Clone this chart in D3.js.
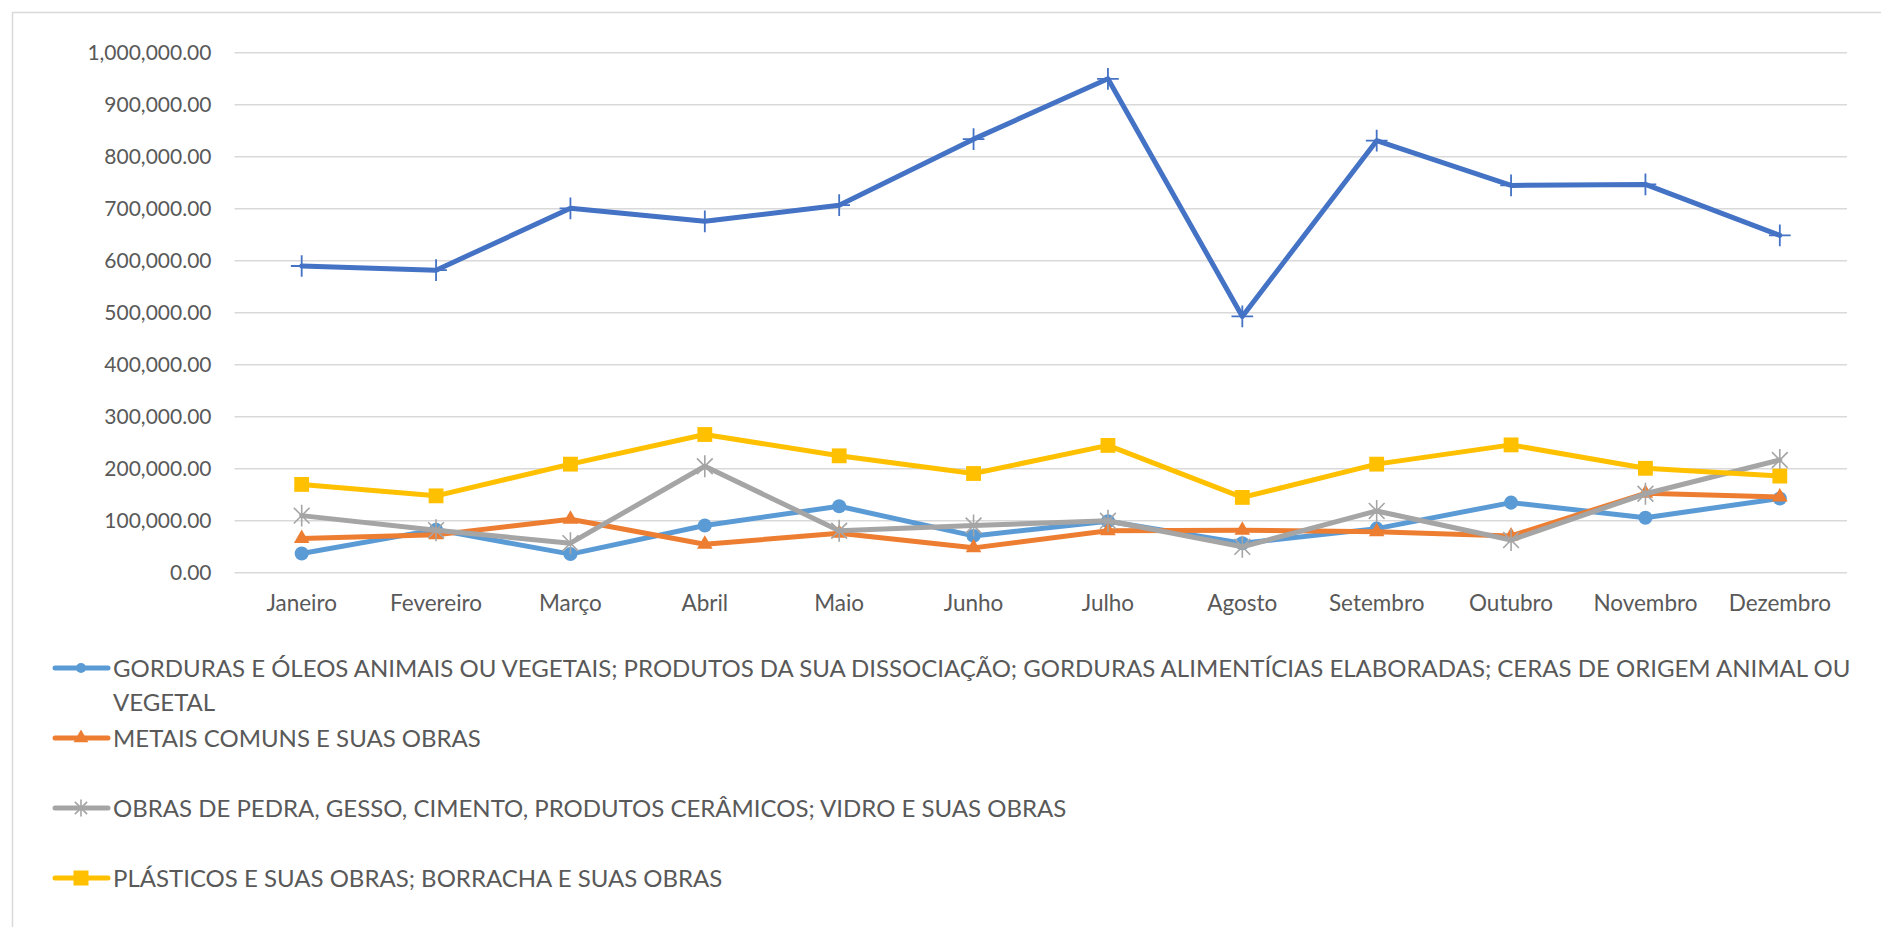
<!DOCTYPE html>
<html>
<head>
<meta charset="utf-8">
<script src="https://cdn.jsdelivr.net/npm/d3@7"></script>
<style>
  html, body { margin: 0; padding: 0; background: #ffffff; }
  svg { display: block; }
</style>
</head>
<body>
<svg id="chart" width="1881" height="927"></svg>
<script>
// ---------- data ----------
const months = ["Janeiro", "Fevereiro", "Março", "Abril", "Maio", "Junho", "Julho", "Agosto", "Setembro", "Outubro", "Novembro", "Dezembro"];
const yTicks = [0, 100000, 200000, 300000, 400000, 500000, 600000, 700000, 800000, 900000, 1000000];

const gorduras  = [36000, 82000, 35000, 90000, 127000, 70000, 98000, 56000, 84000, 134000, 105000, 142000];
const metais    = [65000, 72000, 102000, 54000, 75000, 47000, 80000, 81000, 78000, 70000, 152000, 145000];
const obras     = [109000, 81000, 56000, 204000, 80000, 90000, 99000, 49000, 118000, 62000, 151000, 216000];
const plasticos = [169000, 147000, 208000, 265000, 224000, 190000, 244000, 144000, 208000, 245000, 200000, 185000];
const outro     = [589000, 581000, 700000, 675000, 706000, 833000, 949000, 492000, 830000, 744000, 746000, 648000];

const legendLines = [
  ["GORDURAS E ÓLEOS ANIMAIS OU VEGETAIS; PRODUTOS DA SUA DISSOCIAÇÃO; GORDURAS ALIMENTÍCIAS ELABORADAS; CERAS DE ORIGEM ANIMAL OU", "VEGETAL"],
  ["METAIS COMUNS E SUAS OBRAS"],
  ["OBRAS DE PEDRA, GESSO, CIMENTO, PRODUTOS CERÂMICOS; VIDRO E SUAS OBRAS"],
  ["PLÁSTICOS E SUAS OBRAS; BORRACHA E SUAS OBRAS"]
];

// ---------- styles ----------
const FONT = "Lato, 'Open Sans', sans-serif";
const TEXT = "#595959";
const GRID = "#d9d9d9";

// marker shapes
const plusSym = { draw(ctx, size) { const r = Math.sqrt(size) / 2; ctx.moveTo(-r, 0); ctx.lineTo(r, 0); ctx.moveTo(0, -r); ctx.lineTo(0, r); } };
const starSym = { draw(ctx, size) { const r = Math.sqrt(size) / 2; const d = r * 0.72;
  ctx.moveTo(0, -r); ctx.lineTo(0, r);
  ctx.moveTo(-d, -d); ctx.lineTo(d, d);
  ctx.moveTo(-d, d); ctx.lineTo(d, -d); } };

const series = [
  { values: gorduras,  color: "#5B9BD5", sym: d3.symbolCircle,   size: 155, lsize: 80,  fill: true },
  { values: metais,    color: "#ED7D31", sym: d3.symbolTriangle, size: 105, lsize: 95,  fill: true },
  { values: obras,     color: "#A5A5A5", sym: starSym,           size: 480, lsize: 290, fill: false, sw: 1.6 },
  { values: plasticos, color: "#FFC000", sym: d3.symbolSquare,   size: 220, lsize: 225, fill: true },
  { values: outro,     color: "#4472C4", sym: plusSym,           size: 470, lsize: 300, fill: false, sw: 1.8 }
];

// ---------- layout ----------
const svg = d3.select("#chart");
svg.append("rect").attr("x", 12.5).attr("y", 12.5).attr("width", 1900).attr("height", 1000)
  .attr("fill", "#fff").attr("stroke", GRID).attr("stroke-width", 1.5);

const x = d3.scaleBand().domain(months).range([234.5, 1847]);
const y = d3.scaleLinear().domain([0, 1000000]).range([572.3, 52.3]);
const cx = m => x(m) + x.bandwidth() / 2;

// gridlines + y labels
const yAxis = d3.axisLeft(y).tickValues(yTicks).tickFormat(d3.format(",.2f"))
  .tickSize(-(1847 - 234.5)).tickPadding(23);
const gy = svg.append("g").attr("transform", "translate(234.5,0)").call(yAxis);
gy.select(".domain").remove();
gy.selectAll(".tick line").attr("stroke", GRID).attr("stroke-width", 1.4);
gy.selectAll(".tick text").attr("fill", TEXT).attr("font-family", FONT).attr("font-size", 21).attr("dy", "0.36em");

// x labels
const xAxis = d3.axisBottom(x).tickSize(0).tickPadding(23);
const gx = svg.append("g").attr("transform", "translate(0,572.3)").call(xAxis);
gx.select(".domain").remove();
gx.selectAll(".tick text").attr("fill", TEXT).attr("font-family", FONT).attr("font-size", 22.5).attr("dy", "0.71em");

// lines
const line = d3.line().x((d, i) => cx(months[i])).y(d => y(d));
series.forEach(s => {
  svg.append("path").datum(s.values).attr("d", line)
    .attr("fill", "none").attr("stroke", s.color).attr("stroke-width", 5)
    .attr("stroke-linejoin", "round").attr("stroke-linecap", "round");
  svg.append("g").selectAll("path").data(s.values).join("path")
    .attr("transform", (d, i) => `translate(${cx(months[i])},${y(d)})`)
    .attr("d", d3.symbol().type(s.sym).size(s.size))
    .attr("fill", s.fill ? s.color : "none")
    .attr("stroke", s.color).attr("stroke-width", s.fill ? 0 : s.sw);
});

// legend
const legY = [668, 738, 808, 878];
const lg = svg.append("g");
series.slice(0, 4).forEach((s, i) => {
  const g = lg.append("g").attr("transform", `translate(0,${legY[i]})`);
  g.append("line").attr("x1", 55).attr("x2", 108).attr("y1", 0).attr("y2", 0)
    .attr("stroke", s.color).attr("stroke-width", 5).attr("stroke-linecap", "round");
  g.append("path").attr("transform", "translate(81,0)")
    .attr("d", d3.symbol().type(s.sym).size(s.lsize))
    .attr("fill", s.fill ? s.color : "none")
    .attr("stroke", s.color).attr("stroke-width", s.fill ? 0 : s.sw);
  const t = g.append("text").attr("x", 113).attr("y", 0)
    .attr("fill", TEXT).attr("font-family", FONT).attr("font-size", 24);
  legendLines[i].forEach((ln, k) => {
    t.append("tspan").attr("x", 113).attr("dy", k === 0 ? "0.36em" : 34.5).text(ln);
  });
});
</script>
</body>
</html>
